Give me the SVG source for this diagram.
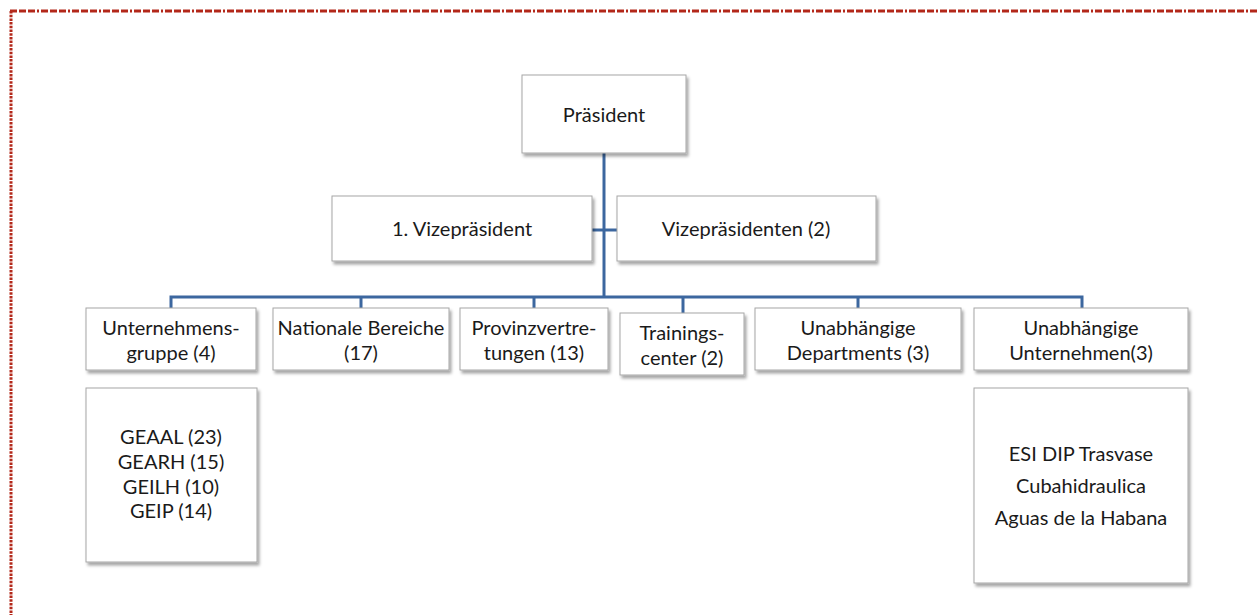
<svg xmlns="http://www.w3.org/2000/svg" width="1258" height="615" viewBox="0 0 1258 615">
  <defs>
    <filter id="sh" x="-10%" y="-10%" width="130%" height="140%">
      <feDropShadow dx="2" dy="3" stdDeviation="1.6" flood-color="#000" flood-opacity="0.35"/>
    </filter>
  </defs>
  <style>
    .box { fill: #ffffff; stroke: #a6a6a6; stroke-width: 1; filter: url(#sh); }
    .t { font-family: Lato, "Open Sans", "Liberation Sans", sans-serif; font-size: 20px; fill: #1a1a1a; text-anchor: middle; dominant-baseline: central; }
    .c { fill: none; stroke: #3c679f; stroke-width: 3; }
    .frame { fill: none; stroke: #b3281a; stroke-width: 3; }
  </style>
  <rect width="1258" height="615" fill="#ffffff"/>
  <line class="frame" x1="10" y1="11" x2="1258" y2="11" stroke-dasharray="7 2 7 2 7 2 2 2"/>
  <line class="frame" x1="11" y1="11" x2="11" y2="615" stroke-dasharray="2.5 1.2"/>

  <g id="connectors">
    <line class="c" x1="604" y1="153" x2="604" y2="297"/>
    <line class="c" x1="592" y1="230" x2="617" y2="230"/>
    <polyline class="c" points="171,308 171,297 1082,297 1082,308"/>
    <line class="c" x1="361" y1="297" x2="361" y2="308"/>
    <line class="c" x1="534" y1="297" x2="534" y2="308"/>
    <line class="c" x1="683" y1="297" x2="683" y2="313"/>
    <line class="c" x1="858" y1="297" x2="858" y2="308"/>
  </g>

  <g id="praesident">
    <rect class="box" x="522" y="75" width="164" height="78"/>
    <text class="t" x="604" y="114">Präsident</text>
  </g>
  <g id="vp1">
    <rect class="box" x="332" y="196" width="260" height="65"/>
    <text class="t" x="462" y="228">1. Vizepräsident</text>
  </g>
  <g id="vp2">
    <rect class="box" x="617" y="196" width="259" height="65"/>
    <text class="t" x="746" y="228">Vizepräsidenten (2)</text>
  </g>

  <g id="unternehmensgruppe">
    <rect class="box" x="86" y="308" width="170" height="62"/>
    <text class="t" x="171" y="327">Unternehmens-</text>
    <text class="t" x="171" y="352">gruppe (4)</text>
  </g>
  <g id="nationale">
    <rect class="box" x="273" y="308" width="176" height="62"/>
    <text class="t" x="361" y="327">Nationale Bereiche</text>
    <text class="t" x="361" y="352">(17)</text>
  </g>
  <g id="provinz">
    <rect class="box" x="460" y="308" width="148" height="62"/>
    <text class="t" x="534" y="327">Provinzvertre-</text>
    <text class="t" x="534" y="352">tungen (13)</text>
  </g>
  <g id="training">
    <rect class="box" x="620" y="313" width="124" height="62"/>
    <text class="t" x="682" y="332">Trainings-</text>
    <text class="t" x="682" y="357">center (2)</text>
  </g>
  <g id="departments">
    <rect class="box" x="755" y="308" width="206" height="62"/>
    <text class="t" x="858" y="327">Unabhängige</text>
    <text class="t" x="858" y="352">Departments (3)</text>
  </g>
  <g id="unternehmen">
    <rect class="box" x="974" y="308" width="214" height="62"/>
    <text class="t" x="1081" y="327">Unabhängige</text>
    <text class="t" x="1081" y="352">Unternehmen(3)</text>
  </g>

  <g id="gruppen-liste">
    <rect class="box" x="86" y="388" width="171" height="174"/>
    <text class="t" x="171" y="436">GEAAL (23)</text>
    <text class="t" x="171" y="461">GEARH (15)</text>
    <text class="t" x="171" y="486">GEILH (10)</text>
    <text class="t" x="171" y="510">GEIP (14)</text>
  </g>
  <g id="unternehmen-liste">
    <rect class="box" x="974" y="388" width="214" height="195"/>
    <text class="t" x="1081" y="453">ESI DIP Trasvase</text>
    <text class="t" x="1081" y="485">Cubahidraulica</text>
    <text class="t" x="1081" y="517">Aguas de la Habana</text>
  </g>
</svg>
